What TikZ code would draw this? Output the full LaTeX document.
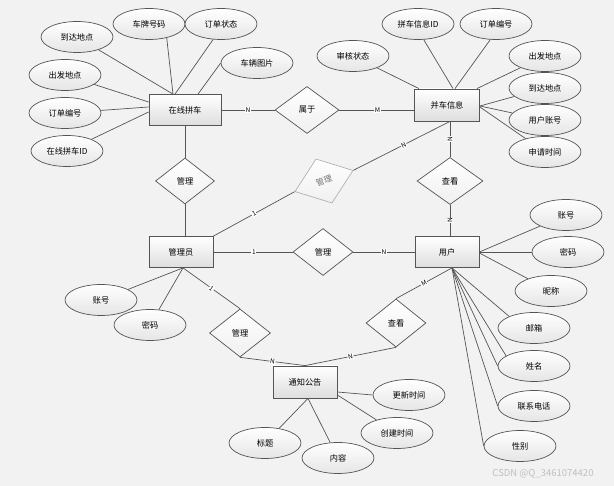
\documentclass[tikz,border=0pt]{standalone}
\usepackage{fontspec}
\setmainfont{Noto Sans CJK SC}
\usetikzlibrary{shapes.geometric,calc}
\definecolor{bg}{HTML}{F2F2F2}
\definecolor{ln}{HTML}{555555}
\begin{document}
\begin{tikzpicture}[x=1pt,y=-1pt,
  every node/.style={font=\fontsize{8.2}{9}\selectfont},
  ent/.style={rectangle,draw=ln,line width=0.8pt,top color=white,bottom color=black!13,minimum width=64pt,minimum height=31pt,inner sep=0pt},
  attr/.style={ellipse,draw=ln,line width=0.7pt,top color=white,bottom color=black!10,minimum width=72pt,minimum height=31pt,inner sep=0pt},
  rel/.style={diamond,draw=ln,line width=0.7pt,top color=white,bottom color=black!6,minimum width=60pt,minimum height=47pt,inner sep=0pt},
  conn/.style={draw=ln,line width=0.7pt},
  lbl/.style={fill=white,inner sep=0.6pt,font=\fontsize{6.5}{7}\selectfont}
]
\useasboundingbox (0,0) rectangle (614,486);
\fill[bg] (0,0) rectangle (614,486);

% entities
\node[ent,minimum width=72pt] (zx) at (185,110) {在线拼车};
\node[ent,minimum width=65pt,minimum height=32pt] (pc) at (447,105) {并车信息};
\node[ent] (gly) at (181,252) {管理员};
\node[ent] (yh) at (447,252) {用户};
\node[ent,minimum height=32pt] (tz) at (305,382) {通知公告};

% relationships
\node[rel,minimum width=64pt] (sy) at (307,110) {属于};
\node[rel,minimum width=59pt,minimum height=46pt] (gl1) at (185,181) {管理};
\node[rel,minimum width=66pt] (ck1) at (450,181) {查看};
\node[rel] (gm) at (323,252) {管理};
\node[rel,minimum width=61pt,minimum height=48pt] (gb) at (240,333) {管理};
\node[rel,minimum height=48pt] (cb) at (396,323) {查看};
\node[rel,draw=black!30,text=black!55,rotate=20,minimum width=62pt,minimum height=47pt] (gg) at (324,181) {管理};

% attributes of 在线拼车
\node[attr] (a1) at (77,37) {到达地点};
\node[attr] (a2) at (149,24) {车牌号码};
\node[attr] (a3) at (221,24) {订单状态};
\node[attr] (a4) at (257,63) {车辆图片};
\node[attr] (a5) at (65,75) {出发地点};
\node[attr] (a6) at (65,113) {订单编号};
\node[attr] (a7) at (67,151) {在线拼车ID};

% attributes of 并车信息
\node[attr] (b1) at (353,56) {审核状态};
\node[attr] (b2) at (418,24) {拼车信息ID};
\node[attr] (b3) at (496,24) {订单编号};
\node[attr] (b4) at (545,56) {出发地点};
\node[attr] (b5) at (545,88) {到达地点};
\node[attr] (b6) at (545,120) {用户账号};
\node[attr] (b7) at (545,152) {申请时间};

% attributes of 管理员
\node[attr] (c1) at (101,300) {账号};
\node[attr] (c2) at (150,325) {密码};

% attributes of 用户
\node[attr] (d1) at (566,215) {账号};
\node[attr] (d2) at (568,252) {密码};
\node[attr] (d3) at (551,291) {昵称};
\node[attr] (d4) at (534,328) {邮箱};
\node[attr] (d5) at (534,366) {姓名};
\node[attr] (d6) at (534,406) {联系电话};
\node[attr] (d7) at (520,446) {性别};

% attributes of 通知公告
\node[attr] (e1) at (409,395) {更新时间};
\node[attr] (e2) at (397,433) {创建时间};
\node[attr] (e3) at (338,458) {内容};
\node[attr] (e4) at (265,443) {标题};

% attribute lines
\draw[conn] (a1) -- ([xshift=-12pt]zx.north);
\draw[conn] (a2.-38) -- ([xshift=-12pt]zx.north);
\draw[conn] (a3.-117) -- ([xshift=-10pt]zx.north);
\draw[conn] (a4.west) -- ([xshift=13pt]zx.north);
\draw[conn] (a5) -- ([yshift=8pt]zx.west);
\draw[conn] (a6) -- ([yshift=3pt]zx.west);
\draw[conn] (a7) -- ([yshift=-2pt]zx.west);

\draw[conn] (b1) -- ([xshift=-28pt]pc.north);
\draw[conn] (b2.-70) -- ([xshift=6pt]pc.north);
\draw[conn] (b3.-110) -- ([xshift=8pt]pc.north);
\draw[conn] (b4) -- ([xshift=-3pt]pc.north east);
\draw[conn] (b5) -- ([yshift=-1pt]pc.east);
\draw[conn] (b6) -- ([yshift=-1pt]pc.east);
\draw[conn] (b7) -- ([yshift=-2pt]pc.east);

\draw[conn] (c1) -- ([xshift=2pt]gly.south);
\draw[conn] (c2) -- ([xshift=2pt]gly.south);

\draw[conn] (d1) -- (yh.east);
\draw[conn] (d2) -- (yh.east);
\draw[conn] (d3) -- ([yshift=-1pt]yh.east);
\draw[conn] (d4.155) -- ([xshift=5pt]yh.south);
\draw[conn] (d5.160) -- ([xshift=5pt]yh.south);
\draw[conn] (d5.west) -- ([xshift=5pt]yh.south);
\draw[conn] (d6.west) -- ([xshift=5pt]yh.south);
\draw[conn] (d7.west) -- ([xshift=5pt]yh.south);

\draw[conn] (e1.west) -- ([yshift=-10pt]tz.east);
\draw[conn] (e2) -- ([yshift=-13pt]tz.east);
\draw[conn] (e3) -- ([xshift=3pt]tz.south);
\draw[conn] (e4) -- ([xshift=3pt]tz.south);

% relationship lines
\draw[conn] (zx.east) -- node[lbl] {N} (sy.west);
\draw[conn] (sy.east) -- node[lbl,pos=0.51] {M} (sy.east -| pc.west);
\draw[conn] (zx.south -| gl1.north) -- (gl1.north);
\draw[conn] (gl1.south) -- (gl1.south |- gly.north);
\draw[conn] (gly.north east) -- node[lbl,sloped] {1} (gg.west);
\draw[conn] (gg.east) -- node[lbl,sloped,pos=0.52] {N} ([xshift=3pt]pc.south);
\draw[conn] ([xshift=3pt]pc.south) -- node[lbl,rotate=90] {N} (ck1.north);
\draw[conn] (ck1.south) -- node[lbl,rotate=90] {N} (ck1.south |- yh.north);
\draw[conn] (gly.east) -- node[lbl,pos=0.51] {1} (gm.west);
\draw[conn] (gm.east) -- node[lbl] {N} (yh.west);
\draw[conn] ([xshift=2pt]gly.south) -- node[lbl,sloped] {1} (gb.north);
\draw[conn] (gb.south) -- node[lbl,sloped] {N} (tz.north);
\draw[conn] ([xshift=5pt]yh.south) -- node[lbl,sloped] {M} (cb.north);
\draw[conn] (cb.south) -- node[lbl,sloped] {N} (tz.north);

% watermark
\node[text=black!25,font=\fontsize{9.5}{10}\selectfont] (wm) at (543,474) {CSDN @Q\_3461074420};
\end{tikzpicture}
\end{document}
